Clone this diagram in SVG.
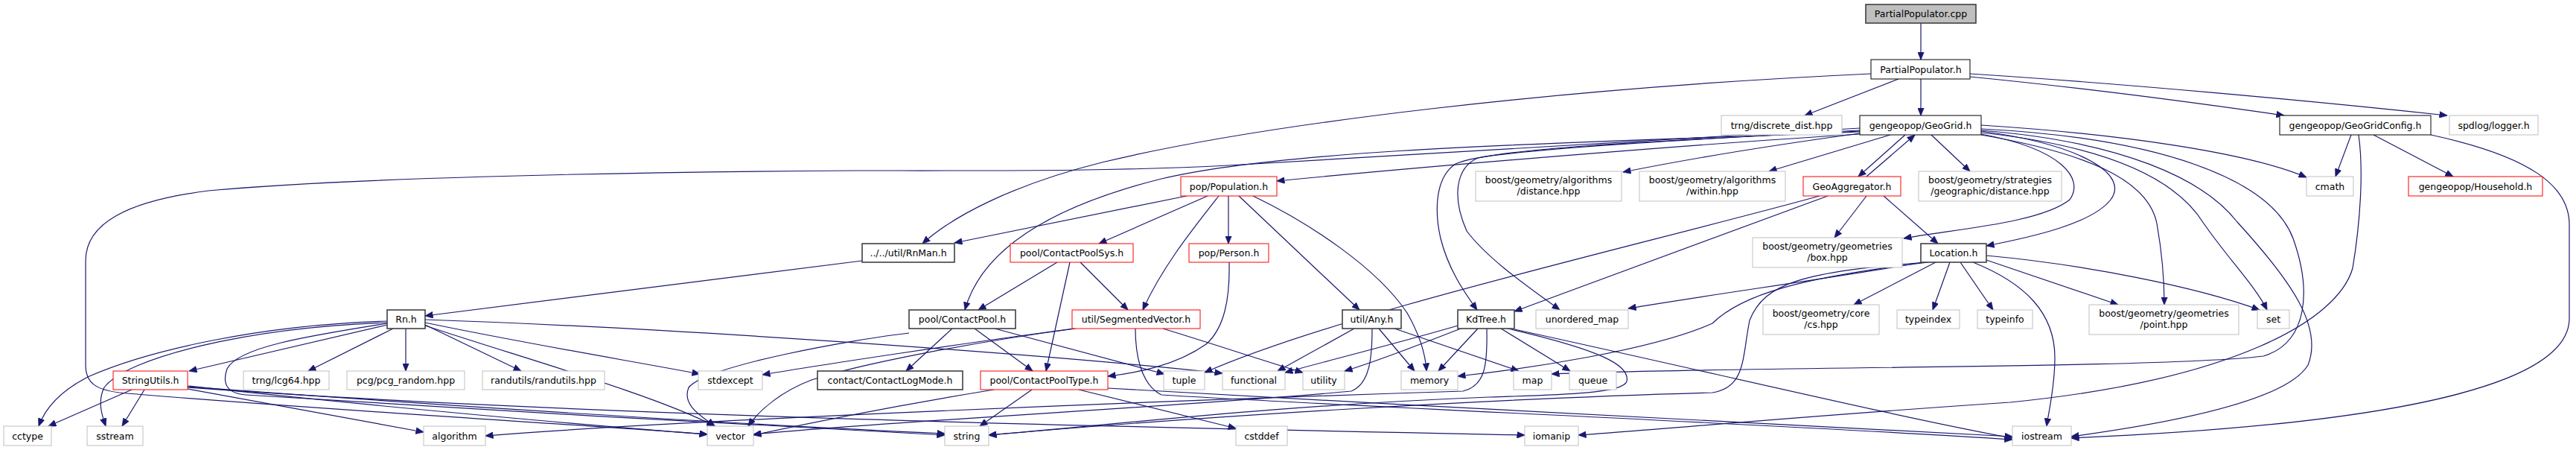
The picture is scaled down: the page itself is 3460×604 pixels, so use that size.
<svg xmlns="http://www.w3.org/2000/svg" width="3460" height="604" viewBox="0 0 3460 604">
<style>
.n rect{fill:#ffffff;stroke-width:1}
.ext rect{stroke:#bfbfbf}
.red rect{stroke:#ff0000}
.doc rect{stroke:#000000}
.dk rect{stroke:#404040;stroke-width:1.6}
.root rect{fill:#bfbfbf;stroke:#404040;stroke-width:1.6}
text{font-family:"DejaVu Sans","Liberation Sans",sans-serif;font-size:12.5px;fill:#000;text-anchor:middle}
#edges path{fill:none;stroke:#191970;stroke-width:1.2;marker-end:url(#ah)}
</style>
<defs>
<marker id="ah" viewBox="0 0 11 9" refX="10.5" refY="4.5" markerWidth="11" markerHeight="9" markerUnits="userSpaceOnUse" orient="auto">
<path d="M0,0 L11,4.5 L0,9 z" fill="#191970" stroke="#191970" stroke-width="0.5"/>
</marker>
</defs>
<rect width="3460" height="604" fill="#ffffff"/>
<g id="edges">
<path d="M2580,31 L2580,80"/>
<path d="M2580,106 L2580,155"/>
<path d="M2550,106 L2424,155"/>
<path d="M2646,103 C2800,118 2950,138 3068,155"/>
<path d="M2646,99 C2850,112 3100,135 3287,155"/>
<path d="M2513,99 C2100,118 1700,165 1480,218 C1360,248 1280,290 1239,327"/>
<path d="M2498,180 C2300,192 1950,220 1715,243"/>
<path d="M2498,177 C2200,190 1750,195 1560,240 C1420,275 1320,330 1296,416"/>
<path d="M2498,172 C2100,195 1850,212 1650,222 C1500,230 1350,229 1150,229 C800,231 450,240 280,256 C170,270 115,300 115,350 L115,490 C115,515 130,523 160,527 C400,548 780,570 950,583"/>
<path d="M2498,179 C2380,195 2260,215 2180,231"/>
<path d="M2539,181 L2376,230"/>
<path d="M2559,181 L2496,237"/>
<path d="M2507,237 L2572,181"/>
<path d="M2594,181 L2646,230"/>
<path d="M2661,180 C2770,200 2800,240 2780,268 C2740,300 2620,308 2557,320"/>
<path d="M2661,176 C2800,195 2860,235 2835,268 C2810,300 2730,318 2668,330"/>
<path d="M2661,168 C2850,180 3020,205 3098,238"/>
<path d="M2661,181 C2800,205 2885,240 2897,300 C2905,345 2907,380 2907,409"/>
<path d="M2661,178 C2820,195 2920,235 2960,300 C2995,350 3030,385 3045,416"/>
<path d="M2661,173 C2900,185 3050,240 3080,320 C3105,390 3100,460 3040,478 C2900,495 2300,492 2084,502"/>
<path d="M2661,175 C2850,190 2960,240 3005,298 C3080,380 3120,440 3100,490 C3070,540 2900,570 2782,586"/>
<path d="M2498,176 C2200,190 2000,200 1955,220 C1925,240 1928,290 1935,320 C1945,360 1965,390 1984,416"/>
<path d="M2498,175 C2250,188 2050,200 1985,212 C1955,225 1950,265 1970,310 C2000,350 2060,390 2095,416"/>
<path d="M1594,263 L1282,326"/>
<path d="M1622,263 L1476,327"/>
<path d="M1637,263 C1600,310 1560,360 1535,416"/>
<path d="M1650,263 L1650,327"/>
<path d="M1664,263 L1826,416"/>
<path d="M1683,263 C1760,300 1850,360 1890,420 C1910,455 1915,480 1916,498"/>
<path d="M1158,350 L571,424"/>
<path d="M520,436 L254,498"/>
<path d="M528,441 L414,498"/>
<path d="M545,441 L545,498"/>
<path d="M571,436 L700,498"/>
<path d="M571,433 C700,460 850,485 940,502"/>
<path d="M571,437 C700,480 880,530 960,572"/>
<path d="M571,429 C900,440 1400,475 1642,501"/>
<path d="M520,431 C350,436 200,470 120,505 C80,525 60,550 52,572"/>
<path d="M520,433 C330,440 170,480 140,520 C130,540 138,560 142,572"/>
<path d="M520,434 C420,450 320,465 305,495 C298,515 305,528 330,530 C600,548 1000,570 1269,584"/>
<path d="M177,523 L65,572"/>
<path d="M194,523 L164,572"/>
<path d="M252,522 L569,580"/>
<path d="M252,518 C500,545 800,572 950,583"/>
<path d="M252,519 C600,545 1000,570 1269,582"/>
<path d="M252,520 C800,560 1600,575 2048,584"/>
<path d="M1997,441 C1998,490 1995,518 1965,525 C1500,540 900,565 652,585"/>
<path d="M1958,437 C1880,460 1780,485 1726,500"/>
<path d="M1962,441 C1900,465 1850,485 1806,498"/>
<path d="M1985,441 L1932,498"/>
<path d="M2016,441 L2109,498"/>
<path d="M2034,442 C2300,500 2550,560 2703,588"/>
<path d="M2025,441 C2150,470 2190,490 2185,512 C2180,528 2100,530 2000,533 C1700,545 1500,570 1328,584"/>
<path d="M1819,441 L1716,498"/>
<path d="M1852,441 L1900,498"/>
<path d="M1873,441 L2040,498"/>
<path d="M1843,441 C1843,480 1840,515 1815,525 C1600,545 1200,565 1012,583"/>
<path d="M1279,441 L1217,498"/>
<path d="M1309,441 L1387,498"/>
<path d="M1336,441 L1564,502"/>
<path d="M1221,447 C1150,455 950,490 925,520 C915,545 945,560 960,572"/>
<path d="M1420,352 L1314,416"/>
<path d="M1437,352 L1405,498"/>
<path d="M1451,352 L1515,416"/>
<path d="M1651,352 C1652,400 1645,440 1620,462 C1580,490 1530,500 1488,505"/>
<path d="M1442,441 C1300,460 1100,490 1024,503"/>
<path d="M1445,441 C1300,460 1150,490 1090,510 C1050,525 1020,550 1005,572"/>
<path d="M1525,441 C1525,470 1530,515 1560,530 C1800,545 2400,570 2703,590"/>
<path d="M1562,441 C1640,465 1700,485 1750,500"/>
<path d="M2600,352 L2490,409"/>
<path d="M2619,352 L2596,416"/>
<path d="M2633,352 L2677,416"/>
<path d="M2650,352 C2720,380 2760,420 2760,480 C2760,520 2752,550 2749,572"/>
<path d="M2668,349 L2845,409"/>
<path d="M2668,343 C2800,355 2950,385 3035,416"/>
<path d="M2583,352 C2450,375 2300,395 2187,414"/>
<path d="M2590,352 C2420,372 2340,395 2300,434 C2220,470 2050,495 1958,505"/>
<path d="M2588,352 C2420,365 2370,380 2350,430 C2340,480 2345,520 2300,527 C2000,535 1600,560 1328,584"/>
<path d="M1386,523 L1316,572"/>
<path d="M1449,523 L1660,575"/>
<path d="M1335,523 C1200,545 1100,565 1012,584"/>
<path d="M1488,521 C1900,545 2400,570 2703,586"/>
<path d="M2507,263 L2464,319"/>
<path d="M2530,263 L2603,327"/>
<path d="M2444,263 C2200,330 1800,420 1618,500"/>
<path d="M2455,263 L2034,418"/>
<path d="M3158,181 L3137,237"/>
<path d="M3188,181 L3295,237"/>
<path d="M3168,181 C3175,230 3170,300 3160,360 C3140,430 3000,510 2700,540 C2400,560 2250,575 2120,584"/>
<path d="M3265,181 C3400,210 3450,250 3451,300 L3451,428 C3450,520 3200,570 2782,588"/>
</g>
<g id="n0" class="n root"><rect x="2506" y="6" width="148" height="25"/><text x="2580" y="23">PartialPopulator.cpp</text></g>
<g id="n1" class="n doc"><rect x="2513" y="80" width="133" height="26"/><text x="2580" y="97.5">PartialPopulator.h</text></g>
<g id="n2" class="n ext"><rect x="2312" y="155" width="162" height="26"/><text x="2393" y="172.5">trng/discrete_dist.hpp</text></g>
<g id="n3" class="n doc"><rect x="2498" y="155" width="163" height="26"/><text x="2579.5" y="172.5">gengeopop/GeoGrid.h</text></g>
<g id="n4" class="n doc"><rect x="3062" y="155" width="203" height="26"/><text x="3163.5" y="172.5">gengeopop/GeoGridConfig.h</text></g>
<g id="n5" class="n ext"><rect x="3290" y="155" width="119" height="26"/><text x="3349.5" y="172.5">spdlog/logger.h</text></g>
<g id="n6" class="n red"><rect x="1586" y="237" width="129" height="26"/><text x="1650.5" y="254.5">pop/Population.h</text></g>
<g id="n7" class="n ext"><rect x="1982" y="230" width="196" height="40"/><text x="2080" y="246">boost/geometry/algorithms</text><text x="2080" y="261">/distance.hpp</text></g>
<g id="n8" class="n ext"><rect x="2202" y="230" width="196" height="40"/><text x="2300" y="246">boost/geometry/algorithms</text><text x="2300" y="261">/within.hpp</text></g>
<g id="n9" class="n red"><rect x="2422" y="237" width="131" height="26"/><text x="2487.5" y="254.5">GeoAggregator.h</text></g>
<g id="n10" class="n ext"><rect x="2577" y="230" width="192" height="40"/><text x="2673" y="246">boost/geometry/strategies</text><text x="2673" y="261">/geographic/distance.hpp</text></g>
<g id="n11" class="n ext"><rect x="3098" y="237" width="63" height="26"/><text x="3129.5" y="254.5">cmath</text></g>
<g id="n12" class="n red"><rect x="3235" y="237" width="180" height="26"/><text x="3325" y="254.5">gengeopop/Household.h</text></g>
<g id="n13" class="n dk"><rect x="1158" y="327" width="124" height="25"/><text x="1220" y="344">../../util/RnMan.h</text></g>
<g id="n14" class="n red"><rect x="1357" y="327" width="165" height="25"/><text x="1439.5" y="344">pool/ContactPoolSys.h</text></g>
<g id="n15" class="n red"><rect x="1597" y="327" width="107" height="25"/><text x="1650.5" y="344">pop/Person.h</text></g>
<g id="n16" class="n ext"><rect x="2354" y="319" width="201" height="40"/><text x="2454.5" y="335">boost/geometry/geometries</text><text x="2454.5" y="350">/box.hpp</text></g>
<g id="n17" class="n dk"><rect x="2580" y="327" width="88" height="25"/><text x="2624" y="344">Location.h</text></g>
<g id="n18" class="n dk"><rect x="520" y="416" width="51" height="25"/><text x="545.5" y="433">Rn.h</text></g>
<g id="n19" class="n dk"><rect x="1221" y="416" width="143" height="25"/><text x="1292.5" y="433">pool/ContactPool.h</text></g>
<g id="n20" class="n red"><rect x="1440" y="416" width="172" height="25"/><text x="1526" y="433">util/SegmentedVector.h</text></g>
<g id="n21" class="n dk"><rect x="1803" y="416" width="79" height="25"/><text x="1842.5" y="433">util/Any.h</text></g>
<g id="n22" class="n dk"><rect x="1958" y="416" width="76" height="25"/><text x="1996" y="433">KdTree.h</text></g>
<g id="n23" class="n ext"><rect x="2063" y="416" width="124" height="25"/><text x="2125" y="433">unordered_map</text></g>
<g id="n24" class="n ext"><rect x="2368" y="409" width="156" height="40"/><text x="2446" y="425">boost/geometry/core</text><text x="2446" y="440">/cs.hpp</text></g>
<g id="n25" class="n ext"><rect x="2548" y="416" width="84" height="25"/><text x="2590" y="433">typeindex</text></g>
<g id="n26" class="n ext"><rect x="2656" y="416" width="74" height="25"/><text x="2693" y="433">typeinfo</text></g>
<g id="n27" class="n ext"><rect x="2806" y="409" width="201" height="40"/><text x="2906.5" y="425">boost/geometry/geometries</text><text x="2906.5" y="440">/point.hpp</text></g>
<g id="n28" class="n ext"><rect x="3032" y="416" width="43" height="25"/><text x="3053.5" y="433">set</text></g>
<g id="n29" class="n red"><rect x="152" y="498" width="100" height="25"/><text x="202" y="515">StringUtils.h</text></g>
<g id="n30" class="n ext"><rect x="327" y="498" width="115" height="25"/><text x="384.5" y="515">trng/lcg64.hpp</text></g>
<g id="n31" class="n ext"><rect x="466" y="498" width="158" height="25"/><text x="545" y="515">pcg/pcg_random.hpp</text></g>
<g id="n32" class="n ext"><rect x="648" y="498" width="164" height="25"/><text x="730" y="515">randutils/randutils.hpp</text></g>
<g id="n33" class="n ext"><rect x="938" y="498" width="86" height="25"/><text x="981" y="515">stdexcept</text></g>
<g id="n34" class="n dk"><rect x="1098" y="498" width="195" height="25"/><text x="1195.5" y="515">contact/ContactLogMode.h</text></g>
<g id="n35" class="n red"><rect x="1317" y="498" width="171" height="25"/><text x="1402.5" y="515">pool/ContactPoolType.h</text></g>
<g id="n36" class="n ext"><rect x="1563" y="498" width="55" height="25"/><text x="1590.5" y="515">tuple</text></g>
<g id="n37" class="n ext"><rect x="1642" y="498" width="84" height="25"/><text x="1684" y="515">functional</text></g>
<g id="n38" class="n ext"><rect x="1750" y="498" width="56" height="25"/><text x="1778" y="515">utility</text></g>
<g id="n39" class="n ext"><rect x="1882" y="498" width="76" height="25"/><text x="1920" y="515">memory</text></g>
<g id="n40" class="n ext"><rect x="2033" y="498" width="51" height="25"/><text x="2058.5" y="515">map</text></g>
<g id="n41" class="n ext"><rect x="2108" y="498" width="63" height="25"/><text x="2139.5" y="515">queue</text></g>
<g id="n42" class="n ext"><rect x="5" y="572" width="64" height="26"/><text x="37" y="589.5">cctype</text></g>
<g id="n43" class="n ext"><rect x="117" y="572" width="75" height="26"/><text x="154.5" y="589.5">sstream</text></g>
<g id="n44" class="n ext"><rect x="569" y="572" width="83" height="26"/><text x="610.5" y="589.5">algorithm</text></g>
<g id="n45" class="n ext"><rect x="950" y="572" width="62" height="26"/><text x="981" y="589.5">vector</text></g>
<g id="n46" class="n ext"><rect x="1269" y="572" width="59" height="26"/><text x="1298.5" y="589.5">string</text></g>
<g id="n47" class="n ext"><rect x="1660" y="572" width="69" height="26"/><text x="1694.5" y="589.5">cstddef</text></g>
<g id="n48" class="n ext"><rect x="2048" y="572" width="72" height="26"/><text x="2084" y="589.5">iomanip</text></g>
<g id="n49" class="n ext"><rect x="2703" y="572" width="79" height="26"/><text x="2742.5" y="589.5">iostream</text></g>
</svg>
